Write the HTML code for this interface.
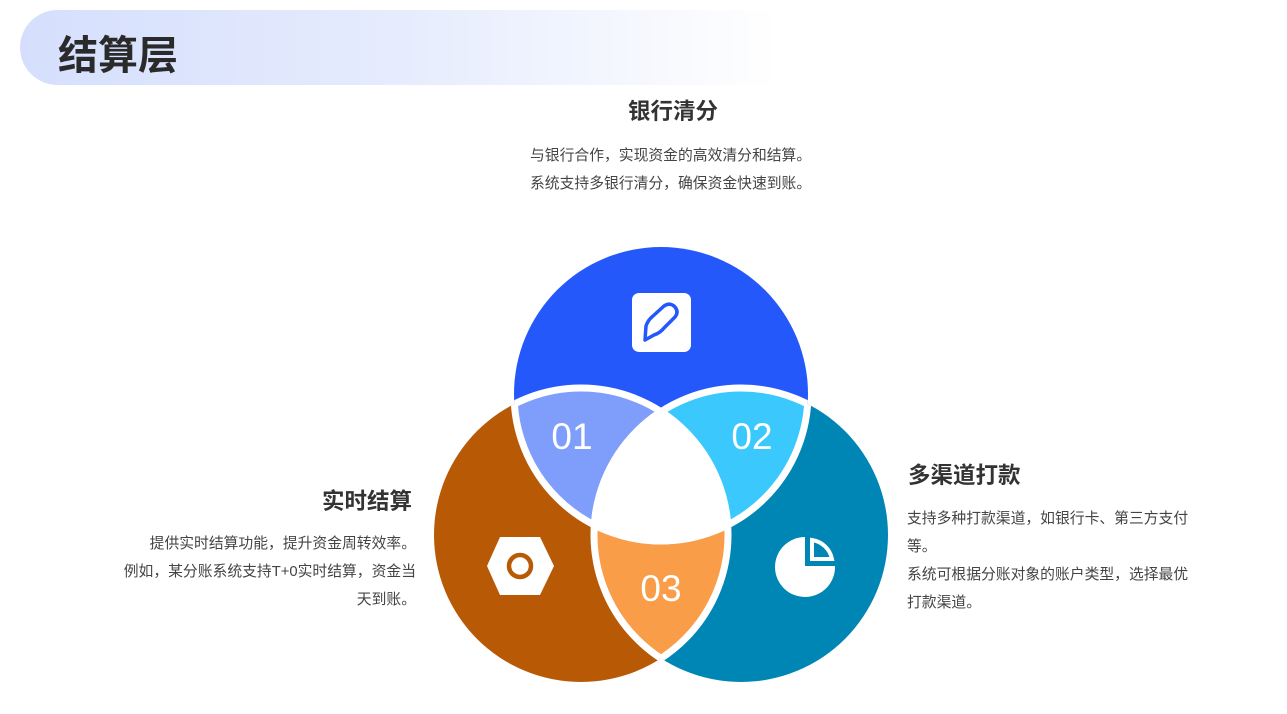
<!DOCTYPE html>
<html><head><meta charset="utf-8"><style>
body{margin:0;width:1287px;height:714px;background:#fff;position:relative;overflow:hidden;font-family:"Liberation Sans","Noto Sans CJK SC",sans-serif;color:#333}
.hdr{position:absolute;left:20px;top:10px;width:760px;height:75px;border-radius:38px 0 0 38px;background:linear-gradient(90deg,#d5dffd 0%,#e6ecfd 50%,#ffffff 100%)}
.hdr span{position:absolute;left:38px;top:13px;font-size:40px;font-weight:bold;color:#2a2a2a}
.t{position:absolute;font-weight:bold;font-size:22.5px;color:#333}
.p{position:absolute;font-size:14.8px;line-height:28px;color:#444;white-space:nowrap}
</style></head><body>
<div class="hdr"><span>结算层</span></div>
<div class="t" style="left:628px;top:94px">银行清分</div>
<div class="p" style="left:530px;top:142px">与银行合作，实现资金的高效清分和结算。<br>系统支持多银行清分，确保资金快速到账。</div>
<div class="t" style="left:322px;top:484px">实时结算</div>
<div class="p" style="left:60px;top:530px;width:356px;text-align:right">提供实时结算功能，提升资金周转效率。<br>例如，某分账系统支持T+0实时结算，资金当<br>天到账。</div>
<div class="t" style="left:908px;top:458px">多渠道打款</div>
<div class="p" style="left:907px;top:505px">支持多种打款渠道，如银行卡、第三方支付<br>等。<br>系统可根据分账对象的账户类型，选择最优<br>打款渠道。</div>
<svg width="1287" height="714" style="position:absolute;left:0;top:0">
<defs>
<clipPath id="cA"><circle cx="661" cy="394" r="147"/></clipPath>
<clipPath id="cB"><circle cx="581" cy="535" r="147"/></clipPath>
<clipPath id="cC"><circle cx="741" cy="535" r="147"/></clipPath>
</defs>
<circle cx="661" cy="394" r="147" fill="#2458fb"/>
<circle cx="581" cy="535" r="147" fill="#b85905"/>
<circle cx="741" cy="535" r="147" fill="#0086b4"/>
<g clip-path="url(#cA)"><circle cx="581" cy="535" r="147" fill="#7f9efb"/><circle cx="741" cy="535" r="147" fill="#3bc9fd"/></g>
<g clip-path="url(#cB)"><circle cx="741" cy="535" r="147" fill="#f99d48"/></g>
<g clip-path="url(#cA)"><g clip-path="url(#cB)"><circle cx="741" cy="535" r="147" fill="#fff"/></g></g>
<g fill="none" stroke="#fff" stroke-width="7">
<circle cx="581" cy="535" r="147" clip-path="url(#cA)"/>
<circle cx="741" cy="535" r="147" clip-path="url(#cA)"/>
<circle cx="661" cy="394" r="147" clip-path="url(#cB)"/>
<circle cx="661" cy="394" r="147" clip-path="url(#cC)"/>
<circle cx="741" cy="535" r="147" clip-path="url(#cB)"/>
<circle cx="581" cy="535" r="147" clip-path="url(#cC)"/>
</g>
<g fill="#fff" font-family="Liberation Sans,sans-serif" font-size="37" text-anchor="middle">
<text x="572" y="449">01</text><text x="752" y="449">02</text><text x="661" y="601">03</text></g>
<rect x="632" y="293" width="59" height="59" rx="7" fill="#fff"/>
<path d="M645 340 L646 326 Q648 320 653 316 L664 306 Q670 302 675 307 Q679 312 675 317 L664 328 Q660 333 654 335 Z" fill="none" stroke="#2458fb" stroke-width="3.5" stroke-linejoin="round"/>
<polygon points="500,537 540,537 554,566 540,595 500,595 487,566" fill="#fff"/>
<circle cx="520" cy="566" r="11" fill="none" stroke="#b85905" stroke-width="4.5"/>
<path d="M805 537 L805 566 L835 566 A30 30 0 1 1 805 537 Z" fill="#fff"/>
<path d="M812 540 L812 559 L832 559 A24 24 0 0 0 812 540 Z" fill="none" stroke="#fff" stroke-width="4"/>
</svg>
</body></html>
